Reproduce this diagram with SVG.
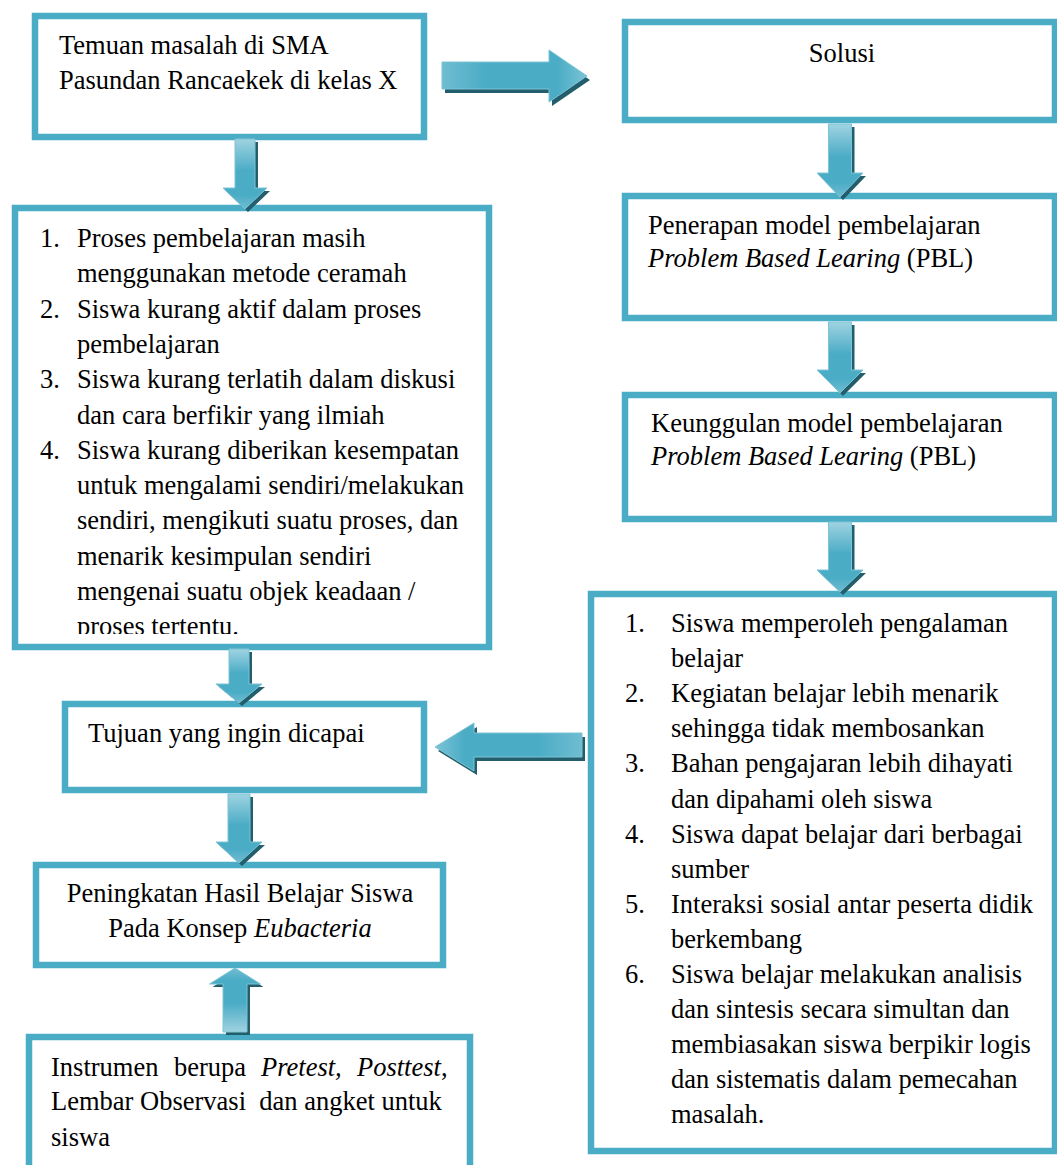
<svg xmlns="http://www.w3.org/2000/svg" xmlns:xlink="http://www.w3.org/1999/xlink" width="1057" height="1165" viewBox="0 0 1057 1165">
<style>
.box{fill:#ffffff;stroke:#4BACC6;stroke-width:6.5}
.t{font-family:"Liberation Serif","Times New Roman",serif;font-size:26.5px;fill:#000}
.i{font-style:italic}
.sh{fill:#235e6c}
.ad{fill:url(#gDown);stroke:#7cc4d6;stroke-width:1}
.au{fill:url(#gUp);stroke:#7cc4d6;stroke-width:1}
.ar{fill:url(#gRight);stroke:#7cc4d6;stroke-width:1}
.al{fill:url(#gLeft);stroke:#7cc4d6;stroke-width:1}
</style>
<defs>
<linearGradient id="gDown" x1="0" y1="0" x2="0" y2="1">
<stop offset="0" stop-color="#9fd3e1"/><stop offset="0.45" stop-color="#4BACC6"/><stop offset="0.8" stop-color="#4BACC6"/><stop offset="1" stop-color="#6fbdd1"/>
</linearGradient>
<linearGradient id="gUp" x1="0" y1="1" x2="0" y2="0">
<stop offset="0" stop-color="#9fd3e1"/><stop offset="0.45" stop-color="#4BACC6"/><stop offset="0.8" stop-color="#4BACC6"/><stop offset="1" stop-color="#6fbdd1"/>
</linearGradient>
<linearGradient id="gRight" x1="0" y1="0" x2="1" y2="0">
<stop offset="0" stop-color="#6fbdd1"/><stop offset="0.3" stop-color="#4BACC6"/><stop offset="0.8" stop-color="#4BACC6"/><stop offset="1" stop-color="#7cc4d6"/>
</linearGradient>
<linearGradient id="gLeft" x1="1" y1="0" x2="0" y2="0">
<stop offset="0" stop-color="#6fbdd1"/><stop offset="0.3" stop-color="#4BACC6"/><stop offset="0.8" stop-color="#4BACC6"/><stop offset="1" stop-color="#7cc4d6"/>
</linearGradient>
<clipPath id="clipL"><rect x="18" y="211" width="468" height="423"/></clipPath>
<path id="pA1" d="M235,139 H255 V188 H267 L245,209 L223,188 H235 Z"/>
<path id="pA2" d="M229,649 H249 V684 H262 L239,703 L216,684 H229 Z"/>
<path id="pA3" d="M228,794 H250 V842 H262 L239,863 L216,842 H228 Z"/>
<path id="pA4" d="M223,1032 V984 H209.5 L235,968 L260.5,984 H247 V1032 Z"/>
<path id="pR1" d="M828.5,124 H851.5 V173 H863 L840,197 L817,173 H828.5 Z"/>
<path id="pR2" d="M828.5,322 H851.5 V370 H863 L840,393 L817,370 H828.5 Z"/>
<path id="pR3" d="M828.5,522 H851.5 V570 H863 L840,592 L817,570 H828.5 Z"/>
<path id="pH1" d="M442,62 H549 V50 L587,76 L549,102 V89 H442 Z"/>
<path id="pH2" d="M582,733 H474 V723 L435,747 L474,771 V757 H582 Z"/>
</defs>
<rect width="1057" height="1165" fill="#ffffff"/>

<g id="n-temuan">
<rect class="box" x="35" y="16" width="389" height="121"/>
<text class="t" x="59" y="54">Temuan masalah di SMA</text>
<text class="t" x="59" y="89">Pasundan Rancaekek di kelas X</text>
</g>

<g id="n-masalah">
<rect class="box" x="15" y="208" width="474" height="439"/>
<g clip-path="url(#clipL)">
<text class="t" x="40" y="247">1.</text><text class="t" x="77" y="247">Proses pembelajaran masih</text>
<text class="t" x="77" y="282.3">menggunakan metode ceramah</text>
<text class="t" x="40" y="317.6">2.</text><text class="t" x="77" y="317.6">Siswa kurang aktif dalam proses</text>
<text class="t" x="77" y="352.9">pembelajaran</text>
<text class="t" x="40" y="388.2">3.</text><text class="t" x="77" y="388.2">Siswa kurang terlatih dalam diskusi</text>
<text class="t" x="77" y="423.5">dan cara berfikir yang ilmiah</text>
<text class="t" x="40" y="458.8">4.</text><text class="t" x="77" y="458.8">Siswa kurang diberikan kesempatan</text>
<text class="t" x="77" y="494.1">untuk mengalami sendiri/melakukan</text>
<text class="t" x="77" y="529.4">sendiri, mengikuti suatu proses, dan</text>
<text class="t" x="77" y="564.7">menarik kesimpulan sendiri</text>
<text class="t" x="77" y="600">mengenai suatu objek keadaan /</text>
<text class="t" x="77" y="635.3">proses tertentu.</text>
</g>
</g>

<g id="n-tujuan">
<rect class="box" x="65" y="704" width="359" height="86"/>
<text class="t" x="88" y="742">Tujuan yang ingin dicapai</text>
</g>

<g id="n-peningkatan">
<rect class="box" x="36" y="865" width="407" height="100"/>
<text class="t" x="240" y="902" text-anchor="middle">Peningkatan Hasil Belajar Siswa</text>
<text class="t" x="240" y="937" text-anchor="middle">Pada Konsep <tspan class="i">Eubacteria</tspan></text>
</g>

<g id="n-instrumen">
<rect class="box" x="29" y="1037" width="441" height="140"/>
<text class="t" y="1076"><tspan x="51">Instrumen</tspan><tspan x="174">berupa</tspan><tspan x="261" class="i">Pretest,</tspan><tspan x="357" class="i">Posttest</tspan><tspan>,</tspan></text>
<text class="t" x="51" y="1110" xml:space="preserve">Lembar Observasi  dan angket untuk</text>
<text class="t" x="51" y="1146">siswa</text>
</g>

<g id="n-solusi">
<rect class="box" x="625" y="22" width="430" height="98"/>
<text class="t" x="842" y="62" text-anchor="middle">Solusi</text>
</g>

<g id="n-penerapan">
<rect class="box" x="625" y="196" width="430" height="122"/>
<text class="t" x="648" y="234">Penerapan model pembelajaran</text>
<text class="t" x="648" y="267"><tspan class="i">Problem Based Learing</tspan> (PBL)</text>
</g>

<g id="n-keunggulan">
<rect class="box" x="625" y="395" width="430" height="124"/>
<text class="t" x="651" y="432">Keunggulan model pembelajaran</text>
<text class="t" x="651" y="465"><tspan class="i">Problem Based Learing</tspan> (PBL)</text>
</g>

<g id="n-keunggulan-list">
<rect class="box" x="591" y="594" width="464" height="557"/>
<text class="t" x="625" y="632">1.</text><text class="t" x="671" y="632">Siswa memperoleh pengalaman</text>
<text class="t" x="671" y="667.1">belajar</text>
<text class="t" x="625" y="702.2">2.</text><text class="t" x="671" y="702.2">Kegiatan belajar lebih menarik</text>
<text class="t" x="671" y="737.3">sehingga tidak membosankan</text>
<text class="t" x="625" y="772.4">3.</text><text class="t" x="671" y="772.4">Bahan pengajaran lebih dihayati</text>
<text class="t" x="671" y="807.5">dan dipahami oleh siswa</text>
<text class="t" x="625" y="842.6">4.</text><text class="t" x="671" y="842.6">Siswa dapat belajar dari berbagai</text>
<text class="t" x="671" y="877.7">sumber</text>
<text class="t" x="625" y="912.8">5.</text><text class="t" x="671" y="912.8">Interaksi sosial antar peserta didik</text>
<text class="t" x="671" y="947.9">berkembang</text>
<text class="t" x="625" y="983">6.</text><text class="t" x="671" y="983">Siswa belajar melakukan analisis</text>
<text class="t" x="671" y="1018.1">dan sintesis secara simultan dan</text>
<text class="t" x="671" y="1053.2">membiasakan siswa berpikir logis</text>
<text class="t" x="671" y="1088.3">dan sistematis dalam pemecahan</text>
<text class="t" x="671" y="1123.4">masalah.</text>
</g>

<g id="connectors">
<use xlink:href="#pA1" class="sh" transform="translate(3,3)"/><use xlink:href="#pA1" class="ad"/>
<use xlink:href="#pA2" class="sh" transform="translate(3,3)"/><use xlink:href="#pA2" class="ad"/>
<use xlink:href="#pA3" class="sh" transform="translate(3,3)"/><use xlink:href="#pA3" class="ad"/>
<use xlink:href="#pA4" class="sh" transform="translate(3,3)"/><use xlink:href="#pA4" class="au"/>
<use xlink:href="#pR1" class="sh" transform="translate(3,3)"/><use xlink:href="#pR1" class="ad"/>
<use xlink:href="#pR2" class="sh" transform="translate(3,3)"/><use xlink:href="#pR2" class="ad"/>
<use xlink:href="#pR3" class="sh" transform="translate(3,3)"/><use xlink:href="#pR3" class="ad"/>
<use xlink:href="#pH1" class="sh" transform="translate(3,4)"/><use xlink:href="#pH1" class="ar"/>
<use xlink:href="#pH2" class="sh" transform="translate(3,4)"/><use xlink:href="#pH2" class="al"/>
</g>
</svg>
